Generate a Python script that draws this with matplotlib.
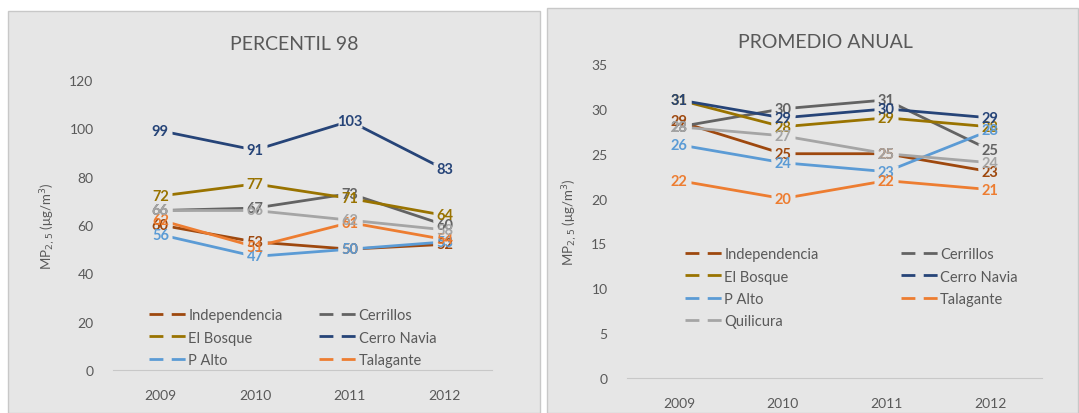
'''
Percentil 98 y promedio anual de MP2,5 por estacion (2009-2012).
'''

from matplotlib import pyplot as pl
from matplotlib.lines import Line2D
from matplotlib.patches import Rectangle

pl.rcParams['font.family'] = ['Lato', 'DejaVu Sans']

years = ['2009', '2010', '2011', '2012']
names = ['Independencia', 'Cerrillos', 'El Bosque', 'Cerro Navia',
         'P Alto', 'Talagante', 'Quilicura']
colors = ['#9E480E', '#636363', '#997300', '#264478',
          '#5B9BD5', '#ED7D31', '#A5A5A5']

# Percentil 98 values
p98 = {
    'Independencia': [60, 53, 50, 52],
    'Cerrillos': [66, 67, 73, 60],
    'El Bosque': [72, 77, 71, 64],
    'Cerro Navia': [99, 91, 103, 83],
    'P Alto': [56, 47, 50, 53],
    'Talagante': [62, 51, 61, 54],
    'Quilicura': [66, 66, 62, 58],
}

# Promedio anual values
anual = {
    'Independencia': [28.6, 25, 25, 23],
    'Cerrillos': [28, 30, 31, 25.4],
    'El Bosque': [31, 28, 29, 28],
    'Cerro Navia': [31, 29, 30, 29],
    'P Alto': [26, 24, 23, 27.6],
    'Talagante': [22, 20, 22, 21],
    'Quilicura': [28, 27, 25, 24],
}

bg = '#E6E6E6'
txt = '#595959'
W, H = 1079.0, 414.0

# wide box marker used to cut the lines behind the data labels
labelbox = [(-1.6, -1), (1.6, -1), (1.6, 1), (-1.6, 1)]


def box(x0, y0, x1, y1):
    '''Axes rectangle from pixel coordinates (top-left origin).'''
    return [x0/W, 1-y1/H, (x1-x0)/W, (y1-y0)/H]


def panel(ax, data, ymax, step, title, legend_names, legend_box,
          title_y, colspace):
    x = list(range(len(years)))
    for name, col in zip(names, colors):
        ax.plot(x, data[name], color=col, linewidth=2, zorder=2)
    for name, col in zip(names, colors):
        ax.plot(x, data[name], linestyle='none', marker=labelbox,
                markersize=17, markerfacecolor=bg, markeredgecolor='none',
                zorder=3)
    for name, col in zip(names, colors):
        for xi, v in zip(x, data[name]):
            ax.text(xi, v, '%.0f' % v, color=col, fontsize=10.5,
                    fontweight='bold', ha='center', va='center', zorder=4)

    ax.set_xlim(-0.5, 3.5)
    ax.set_ylim(0, ymax)
    ax.set_yticks(range(0, ymax+1, step))
    ax.set_xticks(x)
    ax.set_xticklabels(years)
    ax.set_facecolor('none')
    for s in ['top', 'right', 'left']:
        ax.spines[s].set_visible(False)
    ax.spines['bottom'].set_color('#C8C8C8')
    ax.tick_params(axis='both', length=0, colors=txt, labelsize=10)
    ax.tick_params(axis='x', pad=14)
    ax.tick_params(axis='y', pad=14)
    ax.set_ylabel(r'MP$_{2,5}$ ($\mathregular{\mu}$g/m$^3$)', color=txt,
                  fontsize=9.5, labelpad=8)

    # legend in row order, two columns
    order = legend_names[0::2] + legend_names[1::2]
    handles = [Line2D([], [], color=colors[names.index(n)], linewidth=2,
                      linestyle=(0, (5, 3))) for n in order]
    leg = ax.legend(handles, order, ncol=2, frameon=False, fontsize=10.5,
                    handlelength=2.6, handletextpad=0.1,
                    columnspacing=colspace, labelspacing=0.58,
                    loc='upper left', bbox_to_anchor=legend_box,
                    bbox_transform=fig.transFigure)
    for t in leg.get_texts():
        t.set_color(txt)

    fig.text(ax.get_position().x0 + ax.get_position().width/2 - 0.008,
             title_y, title, ha='center', va='center', fontsize=14,
             color=txt)


fig = pl.figure(figsize=(10.79, 4.14), dpi=100)
fig.patch.set_facecolor('white')

# panel backgrounds (negative zorder so the axes draw on top)
fig.patches.append(Rectangle((8/W, 0), 532/W, 1-12/H,
                             transform=fig.transFigure, facecolor=bg,
                             edgecolor='#C8C8C8', linewidth=1, zorder=-5))
fig.patches.append(Rectangle((547/W, 0), 531/W, 1-9/H,
                             transform=fig.transFigure, facecolor=bg,
                             edgecolor='#C8C8C8', linewidth=1, zorder=-5))

ax1 = fig.add_axes(box(113, 81, 492, 371))
panel(ax1, p98, 120, 20, 'PERCENTIL 98', names[:6],
      (136/W, 1-296/H), 1-45/H, 2.5)

ax2 = fig.add_axes(box(627, 65, 1042, 379))
panel(ax2, anual, 35, 5, 'PROMEDIO ANUAL', names,
      (672/W, 1-235/H), 1-42/H, 5.6)

fig.savefig('out.png', dpi=100, facecolor='white')
